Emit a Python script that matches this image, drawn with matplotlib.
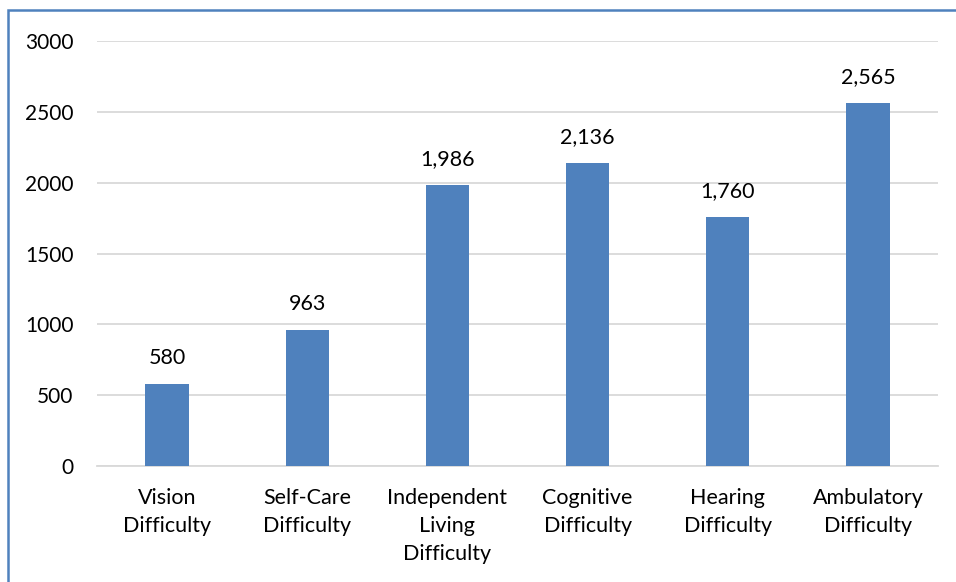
import matplotlib
matplotlib.use("Agg")
import matplotlib.pyplot as plt
from matplotlib.patches import Rectangle

categories = ["Vision\nDifficulty", "Self-Care\nDifficulty", "Independent\nLiving\nDifficulty",
              "Cognitive\nDifficulty", "Hearing\nDifficulty", "Ambulatory\nDifficulty"]
values = [580, 963, 1986, 2136, 1760, 2565]
yticks = [0, 500, 1000, 1500, 2000, 2500, 3000]

plt.rcParams['font.family'] = ['Lato', 'DejaVu Sans']

fig = plt.figure(figsize=(9.56, 5.82), dpi=100)
ax = fig.add_axes([97/956, 1-466/582, (938-97)/956, (466-41)/582])

x = list(range(len(categories)))
bars = ax.bar(x, values, width=0.31, color="#4F81BD", zorder=3)
for xi, v in zip(x, values):
    ax.annotate(f"{v:,}", (xi, v), xytext=(0, 11.5), textcoords="offset points",
                ha="center", va="bottom", fontsize=15.5, color="#000000")

ax.set_xlim(-0.5, len(categories) - 0.5)
ax.set_ylim(0, 3000)
ax.set_yticks(yticks)
ax.set_yticklabels([str(t) for t in yticks], fontsize=15)
ax.set_xticks(x)
ax.set_xticklabels(categories, fontsize=15.5, linespacing=1.5)
ax.tick_params(axis="both", length=0)
ax.tick_params(axis="y", pad=17)
ax.tick_params(axis="x", pad=16)
ax.yaxis.grid(True, color="#D9D9D9", linewidth=1.3, zorder=0)
for s in ["top", "right", "left"]:
    ax.spines[s].set_visible(False)
ax.spines["bottom"].set_color("#D9D9D9")
ax.spines["bottom"].set_linewidth(1.3)

fig.patches.append(Rectangle((8/956, -0.1), 1.2, 1 - 10/582 + 0.1, transform=fig.transFigure,
                             fill=False, edgecolor="#4F81BD", linewidth=1.8))

fig.savefig("out.png", dpi=100)
